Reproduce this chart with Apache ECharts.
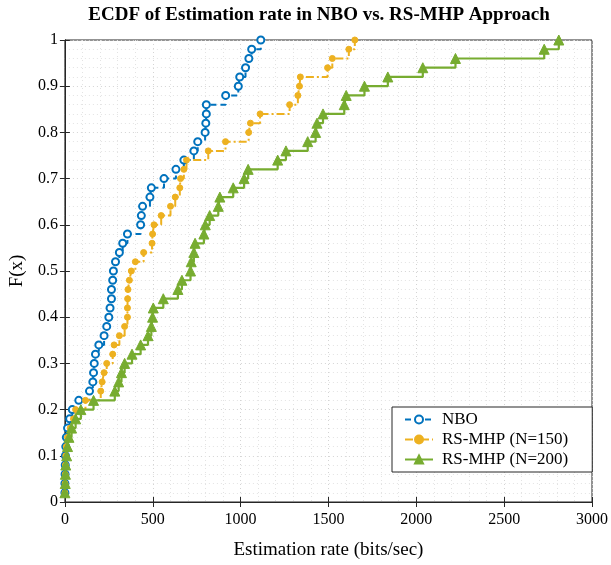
<!DOCTYPE html>
<html>
<head>
<meta charset="utf-8">
<script src="https://cdn.jsdelivr.net/npm/echarts@6/dist/echarts.min.js"></script>
<style>html,body{margin:0;padding:0;background:#fff;}#c{width:611px;height:565px;}</style>
</head>
<body>
<div id="c"></div>
<script>
const Flevels = [0.02,0.04,0.06,0.08,0.10,0.12,0.14,0.16,0.18,0.20,0.22,0.24,0.26,0.28,0.30,0.32,0.34,0.36,0.38,0.40,0.42,0.44,0.46,0.48,0.50,0.52,0.54,0.56,0.58,0.60,0.62,0.64,0.66,0.68,0.70,0.72,0.74,0.76,0.78,0.80,0.82,0.84,0.86,0.88,0.90,0.92,0.94,0.96,0.98,1.00];
const nboX = [0,0,1,2,3,5,8,15,27,42,79,140,159,163,167,174,193,223,238,250,257,265,265,272,276,288,310,329,356,431,435,442,484,492,564,632,677,734,756,798,802,805,805,915,987,995,1028,1047,1063,1115];
const rs150X = [0,1,2,3,5,8,15,30,49,61,117,204,212,223,238,272,280,310,340,356,356,357,359,367,378,401,448,496,499,507,548,601,628,654,658,677,692,816,914,1046,1056,1111,1279,1326,1335,1340,1495,1522,1616,1650];
const rs200X = [0,2,3,5,10,15,23,38,61,91,163,284,306,322,340,382,431,473,492,499,503,560,643,666,715,719,734,741,791,799,824,873,882,958,1020,1043,1211,1258,1382,1427,1435,1469,1590,1601,1705,1838,2037,2223,2728,2811];
const seriesNames = ['NBO','RS-MHP (N=150)','RS-MHP (N=200)'];
const xTicks = [0,500,1000,1500,2000,2500,3000];

const pairs = xs => xs.map((x,i)=>[x, Flevels[i]]);
const serif = 'Liberation Serif, Times New Roman, serif';
const chart = echarts.init(document.getElementById('c'), null, {renderer:'canvas'});
const gridLine = {show:true, lineStyle:{color:'#d4d4d4', type:[1,3], width:1}};
const minorLine = {show:true, lineStyle:{color:'#e3e3e3', type:[1,3], width:1}};
const tickStyle = {show:true, inside:true, length:5, lineStyle:{color:'#262626'}};
chart.setOption({
  animation:false,
  backgroundColor:'#fff',
  graphic:[{type:'text', x:319, y:6, style:{text:'ECDF of Estimation rate in NBO vs. RS-MHP Approach', font:'bold 19px '+serif, fill:'#000', textAlign:'center', textVerticalAlign:'top'}}],
  grid:{left:64, right:18, top:40, bottom:61, containLabel:false, show:true, borderColor:'#262626', borderWidth:1, backgroundColor:'transparent'},
  legend:{
    orient:'vertical', left:392, top:407,
    backgroundColor:'#fff', borderColor:'#262626', borderWidth:1,
    padding:[4,24,4,12], itemGap:3, itemWidth:28, itemHeight:10,
    textStyle:{fontFamily:serif, fontSize:17, color:'#000', padding:[0,0,0,4]},
    data:seriesNames
  },
  xAxis:[{
    type:'value', min:xTicks[0], max:xTicks[xTicks.length-1], interval:500,
    name:'Estimation rate (bits/sec)', nameLocation:'middle', nameGap:39,
    nameTextStyle:{fontFamily:serif, fontSize:19, color:'#000'},
    axisLine:{show:true, lineStyle:{color:'#262626', width:1}},
    axisTick:tickStyle,
    axisLabel:{fontFamily:serif, fontSize:16, color:'#000', margin:10, formatter:v=>String(v)},
    splitLine:gridLine,
    minorTick:{show:false, splitNumber:5},
    minorSplitLine:minorLine
  },{
    type:'value', position:'top', min:0, max:3000, interval:500,
    axisLine:{show:true, lineStyle:{color:'#262626', width:1}},
    axisTick:tickStyle,
    axisLabel:{show:false}, splitLine:{show:false}
  }],
  yAxis:[{
    type:'value', min:0, max:1, interval:0.1,
    name:'F(x)', nameLocation:'middle', nameGap:34, nameRotate:90,
    nameTextStyle:{fontFamily:serif, fontSize:19, color:'#000'},
    axisLine:{show:true, lineStyle:{color:'#262626', width:1}},
    axisTick:tickStyle,
    axisLabel:{fontFamily:serif, fontSize:16, color:'#000', margin:7},
    splitLine:gridLine,
    minorTick:{show:false, splitNumber:5},
    minorSplitLine:minorLine
  },{
    type:'value', position:'right', min:0, max:1, interval:0.1,
    axisLine:{show:true, lineStyle:{color:'#262626', width:1}},
    axisTick:tickStyle,
    axisLabel:{show:false}, splitLine:{show:false}
  }],
  series:[
    {name:seriesNames[0], type:'line', step:'end', data:pairs(nboX),
     symbol:'circle', symbolSize:7, showAllSymbol:true,
     lineStyle:{color:'#0072BD', width:2, type:[6,4]},
     itemStyle:{color:'#fff', borderColor:'#0072BD', borderWidth:2},
     color:'#0072BD'},
    {name:seriesNames[1], type:'line', step:'end', data:pairs(rs150X),
     symbol:'circle', symbolSize:6, showAllSymbol:true,
     lineStyle:{color:'#EDB120', width:2, type:[8,3,2,3]},
     itemStyle:{color:'#EDB120', borderColor:'#EDB120', borderWidth:1},
     color:'#EDB120'},
    {name:seriesNames[2], type:'line', step:'end', data:pairs(rs200X),
     symbol:'triangle', symbolSize:10, showAllSymbol:true,
     lineStyle:{color:'#77AC30', width:2.2},
     itemStyle:{color:'#77AC30', borderColor:'#77AC30', borderWidth:1},
     color:'#77AC30'},
    {name:'_top', type:'line', xAxisIndex:1, yAxisIndex:1, data:[[0,0]], symbol:'none', silent:true, lineStyle:{opacity:0}, legendHoverLink:false}
  ]
});
</script>
</body>
</html>
